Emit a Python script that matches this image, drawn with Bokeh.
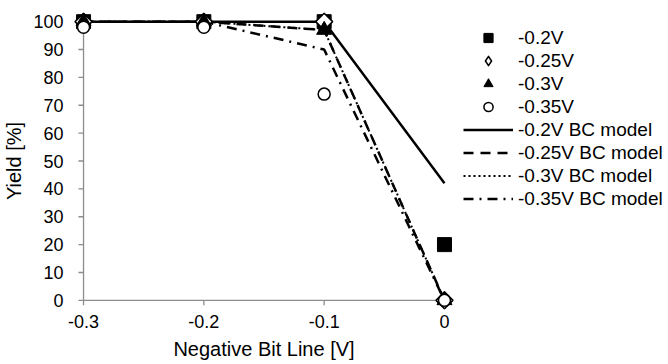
from bokeh.plotting import figure
from bokeh.models import Range1d, FixedTicker, Legend, LegendItem
from bokeh.embed import file_html
from bokeh.resources import INLINE
import math

# ---- data ----
x_vals = [-0.3, -0.2, -0.1, 0.0]
x_tick_labels = ["-0.3", "-0.2", "-0.1", "0"]
y_ticks = [0, 10, 20, 30, 40, 50, 60, 70, 80, 90, 100]

meas_020 = [100, 100, 100, 20]
meas_025 = [100, 100, 100, 0]
meas_030 = [100, 100, 97, 0]
meas_035 = [98, 98, 74, 0]

model_020 = [100, 100, 100, 42]
model_025 = [100, 100, 97, 0]
model_030 = [100, 100, 97, 0]
model_035 = [100, 100, 90, 0]

FONT = "Liberation Sans"
TICK_FS = "18px"
LABEL_FS = "20px"
LEGEND_FS = "19px"
AXIS_GRAY = "#8c8c8c"

X0, X1 = -0.3, 0.0
Y0, Y1 = 0, 100
TICK_X = 0.0042   # tick length along x (data units, ~5px)
TICK_Y = 1.8      # tick length along y (data units, ~5px)

p = figure(frame_width=385, frame_height=301,
           min_border_left=70, min_border_right=213,
           min_border_top=10, min_border_bottom=53,
           x_range=Range1d(-0.31, 0.01), y_range=Range1d(-4, 104),
           output_backend="svg", toolbar_location=None,
           background_fill_color="white", border_fill_color="white")
p.outline_line_color = None
p.grid.visible = False

for ax in (p.xaxis[0], p.yaxis[0]):
    ax.axis_line_color = None
    ax.major_tick_line_color = None
    ax.major_tick_in = 0
    ax.major_tick_out = 0
    ax.minor_tick_line_color = None
    ax.major_label_text_font = FONT
    ax.major_label_text_font_size = TICK_FS
    ax.major_label_text_color = "black"
    ax.axis_label_text_font = FONT
    ax.axis_label_text_font_size = LABEL_FS
    ax.axis_label_text_font_style = "normal"
    ax.axis_label_text_color = "black"

p.xaxis.ticker = FixedTicker(ticks=x_vals)
p.xaxis.major_label_overrides = {v: s for v, s in zip(x_vals, x_tick_labels)}
p.xaxis.axis_label = "Negative Bit Line [V]"
p.xaxis.major_label_standoff = 3
p.xaxis.axis_label_standoff = 7

p.yaxis.ticker = FixedTicker(ticks=y_ticks)
p.yaxis.axis_label = "Yield [%]"
p.yaxis.major_label_standoff = 8
p.yaxis.axis_label_standoff = 5

# axis lines + tick marks at the data origin
p.segment(x0=[X0, X0], y0=[Y0, Y0], x1=[X1, X0], y1=[Y0, Y1],
          line_color=AXIS_GRAY, line_width=1.3)
p.segment(x0=x_vals, y0=[Y0] * len(x_vals), x1=x_vals, y1=[Y0 - TICK_Y] * len(x_vals),
          line_color=AXIS_GRAY, line_width=1.3)
p.segment(x0=[X0] * len(y_ticks), y0=y_ticks, x1=[X0 - TICK_X] * len(y_ticks), y1=y_ticks,
          line_color=AXIS_GRAY, line_width=1.3)

LW = 2.5
l1 = p.line(x_vals, model_020, line_color="black", line_width=LW)
l2 = p.line(x_vals, model_025, line_color="black", line_width=LW, line_dash="10 7")
l3 = p.line(x_vals, model_030, line_color="black", line_width=2, line_dash="2 3")
l4 = p.line(x_vals, model_035, line_color="black", line_width=LW, line_dash="10 6 2 6")

s1 = p.scatter(x_vals, meas_020, marker="square", size=14,
               fill_color="black", line_color="black")
# diamond used for the legend glyph; sits fully under the wider rotated square below
s2_leg = p.scatter(x_vals, meas_025, marker="diamond", size=16,
                   fill_color="white", line_color="black", line_width=1.5,
                   line_join="round")
s2 = p.scatter(x_vals, meas_025, marker="square", size=12, angle=math.pi / 4,
               fill_color="white", line_color="black", line_width=1.5)
s3 = p.scatter(x_vals, meas_030, marker="triangle", size=15,
               fill_color="black", line_color="black")
s4 = p.scatter(x_vals, meas_035, marker="circle", size=12,
               fill_color="white", line_color="black", line_width=1.5)

legend = Legend(items=[
    LegendItem(label="-0.2V", renderers=[s1]),
    LegendItem(label="-0.25V", renderers=[s2_leg]),
    LegendItem(label="-0.3V", renderers=[s3]),
    LegendItem(label="-0.35V", renderers=[s4]),
    LegendItem(label="-0.2V BC model", renderers=[l1]),
    LegendItem(label="-0.25V BC model", renderers=[l2]),
    LegendItem(label="-0.3V BC model", renderers=[l3]),
    LegendItem(label="-0.35V BC model", renderers=[l4]),
], location=(7, 101))
legend.glyph_width = 50
legend.glyph_height = 23
legend.label_height = 23
legend.spacing = 0
legend.padding = 0
legend.margin = 0
legend.label_standoff = 5
legend.label_text_font = FONT
legend.label_text_font_size = LEGEND_FS
legend.label_text_color = "black"
legend.border_line_color = None
legend.background_fill_alpha = 0
p.add_layout(legend, "right")

open("out.html", "w").write(file_html(p, INLINE))
